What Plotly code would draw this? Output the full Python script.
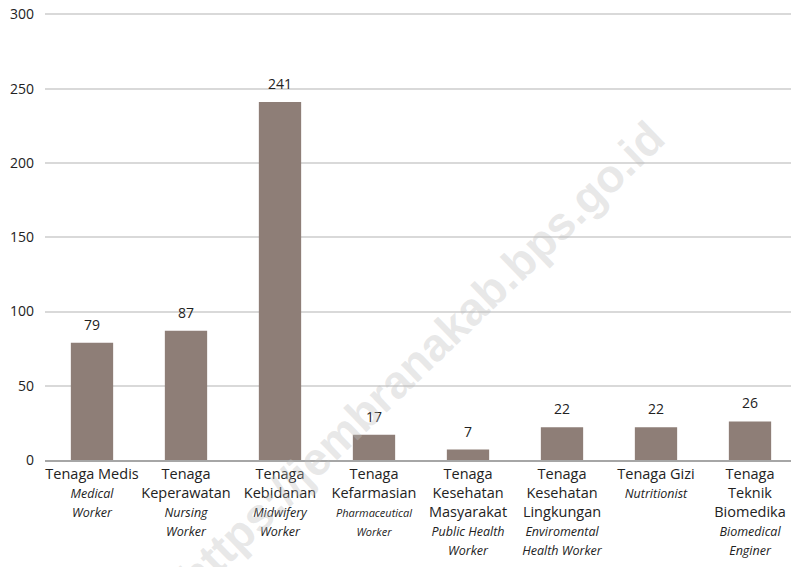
import plotly.graph_objects as go

categories_id = ["Tenaga Medis", "Tenaga<br>Keperawatan", "Tenaga<br>Kebidanan", "Tenaga<br>Kefarmasian",
                 "Tenaga<br>Kesehatan<br>Masyarakat", "Tenaga<br>Kesehatan<br>Lingkungan", "Tenaga Gizi",
                 "Tenaga<br>Teknik<br>Biomedika"]
categories_en = ["Medical<br>Worker", "Nursing<br>Worker", "Midwifery<br>Worker", "Pharmaceutical<br>Worker",
                 "Public Health<br>Worker", "Enviromental<br>Health Worker", "Nutritionist",
                 "Biomedical<br>Enginer"]
values = [79, 87, 241, 17, 7, 22, 22, 26]
y_ticks = [0, 50, 100, 150, 200, 250, 300]

FONT = "Open Sans"
# page body has an 8px offset; compensate so the drawing lands where the reference has it
OFF = 8
W, H = 799 - OFF, 567 - OFF
ML, MR, MT, MB = 45 - OFF, 2, 14 - OFF - 1.5, 107
YMAX = 301

def small(txt, size):
    return "<br>".join(f"<span style='font-size:{size}px'><i>{p}</i></span>" for p in txt.split("<br>"))

ticktext = []
for ind, en in zip(categories_id, categories_en):
    sz = 11 if en.startswith("Pharmaceutical") else 12.5
    ticktext.append(ind + "<br>" + small(en, sz))

x = list(range(len(values)))

fig = go.Figure()
fig.add_trace(go.Bar(
    x=x, y=values, marker=dict(color="#8e7e77", line=dict(width=0)), width=0.45,
))
for xi, v in zip(x, values):
    fig.add_annotation(
        x=xi, y=v, text=str(v), showarrow=False, xanchor="center", yanchor="bottom", yshift=7,
        font=dict(family=FONT, size=14, color="#222222"),
    )

pw = W - ML - MR
ph = H - MT - MB
def px2paper(px, py):
    # px, py are in page pixels
    return (px - OFF - ML) / pw, (H - MB - (py - OFF)) / ph

cx, cy = px2paper(421, 357)
fig.add_annotation(
    text="<b>https://jembranakab.bps.go.id</b>", xref="paper", yref="paper",
    x=cx, y=cy, xanchor="center", yanchor="middle", textangle=-44, showarrow=False,
    font=dict(family="Liberation Sans", size=46, color="rgba(190,190,190,0.36)"),
)

fig.update_layout(
    width=W, height=H, margin=dict(l=ML, r=MR, t=MT, b=MB),
    plot_bgcolor="white", paper_bgcolor="white", showlegend=False,
    font=dict(family=FONT, size=14, color="#222222"),
)
fig.update_xaxes(
    tickmode="array", tickvals=x, ticktext=ticktext, range=[-0.5, len(values) - 0.5],
    showgrid=False, showline=True, linecolor="#a6a6a6", linewidth=1.5, ticks="",
    tickfont=dict(family=FONT, size=14.5, color="#222222"), tickangle=0, automargin=False,
    ticklabeloverflow="allow",
)
fig.update_yaxes(
    range=[0, YMAX], tickvals=y_ticks, showgrid=True, gridcolor="#d9d9d9", gridwidth=1.5,
    zeroline=False, showline=False, ticks="", ticklabelstandoff=10, automargin=False,
    ticklabeloverflow="allow",
    tickfont=dict(family=FONT, size=14, color="#222222"),
)

fig.write_html("out.html")
